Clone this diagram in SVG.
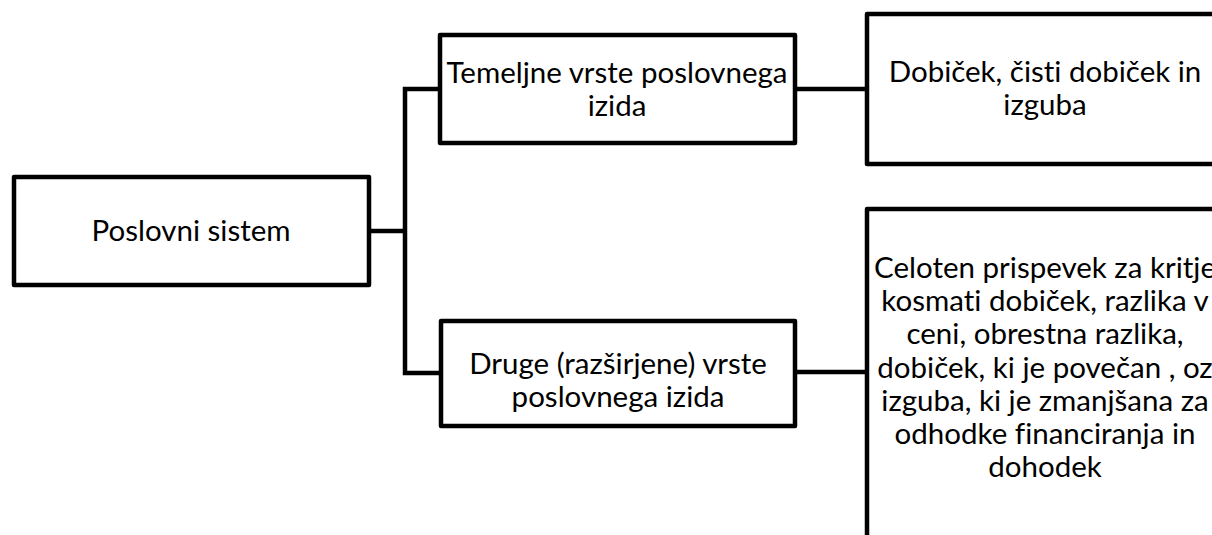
<svg xmlns="http://www.w3.org/2000/svg" width="1212" height="535" viewBox="0 0 1212 535">
  <style>
    .box { fill: #ffffff; stroke: #000000; stroke-width: 4.5; stroke-linejoin: round; }
    .conn { fill: none; stroke: #000000; stroke-width: 4.5; stroke-linejoin: miter; }
    .lbl { font-family: Lato, "Liberation Sans", sans-serif; font-size: 29.5px; fill: #000000; text-anchor: middle; font-variant-ligatures: none; }
  </style>
  <rect width="1212" height="535" fill="#ffffff"/>
  <g id="connectors">
    <path class="conn" d="M369 231 H405"/>
    <path class="conn" d="M440 89 H405 V373 H441"/>
    <path class="conn" d="M795 89 H867"/>
    <path class="conn" d="M795 372 H867"/>
  </g>
  <g id="node-poslovni-sistem">
    <rect class="box" x="14" y="177" width="355" height="108"/>
    <text class="lbl" x="191" y="241">Poslovni sistem</text>
  </g>
  <g id="node-temeljne">
    <rect class="box" x="440" y="35" width="355" height="108"/>
    <text class="lbl" x="617" y="83">Temeljne vrste poslovnega</text>
    <text class="lbl" x="617" y="116">izida</text>
  </g>
  <g id="node-druge">
    <rect class="box" x="441" y="321" width="354" height="105"/>
    <text class="lbl" x="618" y="374">Druge (razširjene) vrste</text>
    <text class="lbl" x="618" y="407">poslovnega izida</text>
  </g>
  <g id="node-dobicek">
    <rect class="box" x="867" y="14" width="356" height="150"/>
    <text class="lbl" x="1045" y="82">Dobiček, čisti dobiček in</text>
    <text class="lbl" x="1045" y="115">izguba</text>
  </g>
  <g id="node-celoten">
    <rect class="box" x="867" y="209" width="356" height="330"/>
    <text class="lbl" x="1045" y="278">Celoten prispevek za kritje</text>
    <text class="lbl" x="1045" y="311">kosmati dobiček, razlika v</text>
    <text class="lbl" x="1045" y="344">ceni, obrestna razlika,</text>
    <text class="lbl" x="1045" y="378">dobiček, ki je povečan , oz</text>
    <text class="lbl" x="1045" y="411">izguba, ki je zmanjšana za</text>
    <text class="lbl" x="1045" y="444">odhodke financiranja in</text>
    <text class="lbl" x="1045" y="477">dohodek</text>
  </g>
</svg>
